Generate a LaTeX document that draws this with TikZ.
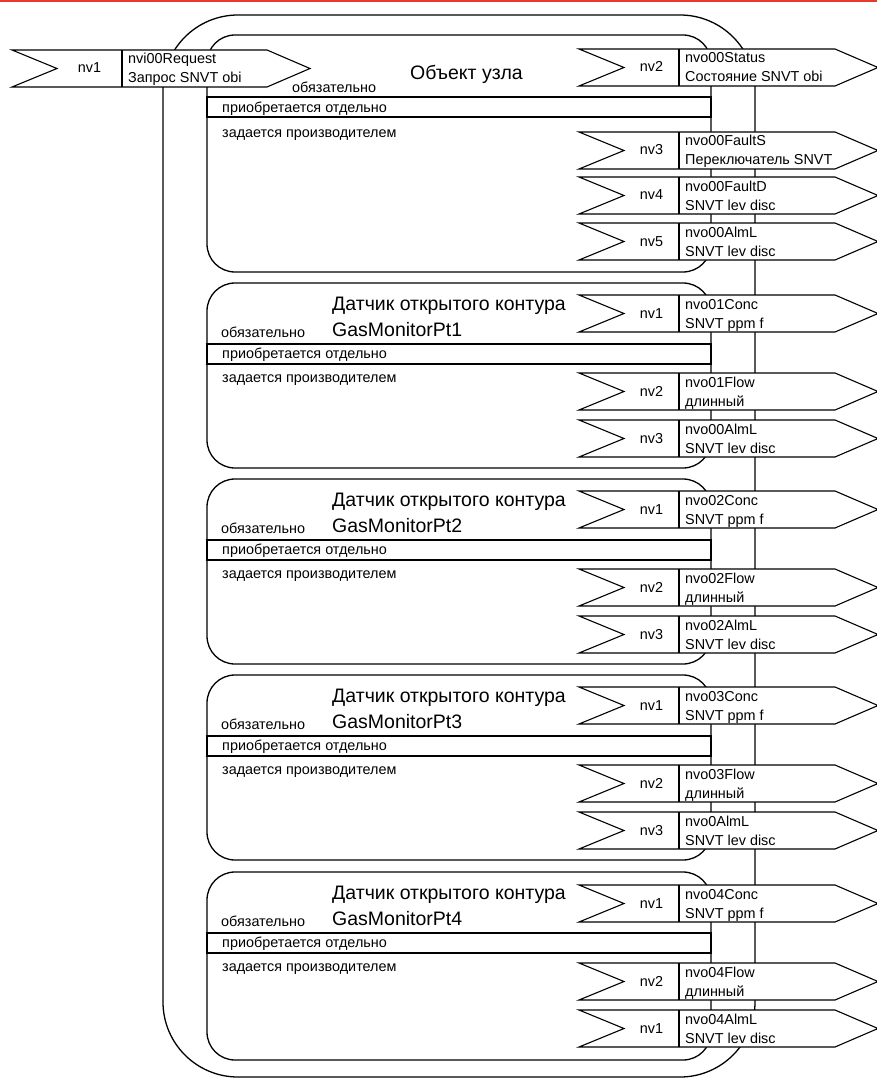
\documentclass[tikz,border=0pt]{standalone}
\usepackage{fontspec}
\setmainfont{Liberation Sans}
\usepackage{tikz}
\usetikzlibrary{positioning}
\definecolor{topred}{HTML}{E8392B}

% box with notch on the left and point on the right
% #1 name, #2 x, #3 y, #4 left width, #5 right width, #6 nv, #7 first line, #8 second line
\newcommand{\nvbox}[8]{%
  \draw[nvline,fill=white] (#2,#3) -- ++(#4+#5,0) -- ++(43,18.5) -- ++(-43,18.5)
    -- ++(-#4-#5,0) -- ++(45,-18.5) -- cycle;
  \draw[nvline] (#2+#4,#3) -- ++(0,37);
  \node[lbl,anchor=base] (#1-nv) at ({#2+(#4+45)/2},#3+23) {#6};
  \node[lbl,anchor=base west] (#1-a) at (#2+#4+6,#3+14) {#7};
  \node[lbl,anchor=base west] (#1-b) at (#2+#4+6,#3+33) {#8};
}

\begin{document}
\begin{tikzpicture}[x=1pt,y=-1pt,
  nvline/.style={black,line width=1.1pt},
  frame/.style={black,line width=1.3pt},
  lbl/.style={inner sep=0pt,font=\fontsize{14.4}{17}\selectfont},
  ttl/.style={inner sep=0pt,font=\fontsize{19.5}{23}\selectfont}]
  \useasboundingbox (0,0) rectangle (877,1078);
  \fill[topred] (0,0) rectangle (877,2.5);

  % outer frame
  \draw[frame,rounded corners=75] (163,15) rectangle (755,1077);

  % node object
  \draw[frame,rounded corners=28] (207,35) rectangle (711,272);
  \draw[frame] (207,97) rectangle (711,117);
  \node[ttl,anchor=base west] (obj) at (410,80) {Объект узла};
  \node[lbl,anchor=base west] (obj-m) at (292,93) {обязательно};
  \node[lbl,anchor=base west] (obj-o) at (222,113) {приобретается отдельно};
  \node[lbl,anchor=base west] (obj-p) at (222,138) {задается производителем};

  % sensor 1
  \draw[frame,rounded corners=28] (207,283) rectangle (711,468);
  \draw[frame] (207,344) rectangle (711,364);
  \node[ttl,anchor=base west] (s1) at (332,310) {Датчик открытого контура};
  \node[ttl,anchor=base west] (s1-n) at (332,336) {GasMonitorPt1};
  \node[lbl,anchor=base west] (s1-m) at (221,337) {обязательно};
  \node[lbl,anchor=base west] (s1-o) at (222,358) {приобретается отдельно};
  \node[lbl,anchor=base west] (s1-p) at (222,382) {задается производителем};

  % sensor 2
  \draw[frame,rounded corners=28] (207,479) rectangle (711,664);
  \draw[frame] (207,540) rectangle (711,560);
  \node[ttl,anchor=base west] (s2) at (332,506) {Датчик открытого контура};
  \node[ttl,anchor=base west] (s2-n) at (332,532) {GasMonitorPt2};
  \node[lbl,anchor=base west] (s2-m) at (221,533) {обязательно};
  \node[lbl,anchor=base west] (s2-o) at (222,554) {приобретается отдельно};
  \node[lbl,anchor=base west] (s2-p) at (222,578) {задается производителем};

  % sensor 3
  \draw[frame,rounded corners=28] (207,675) rectangle (711,860);
  \draw[frame] (207,736) rectangle (711,756);
  \node[ttl,anchor=base west] (s3) at (332,702) {Датчик открытого контура};
  \node[ttl,anchor=base west] (s3-n) at (332,728) {GasMonitorPt3};
  \node[lbl,anchor=base west] (s3-m) at (221,729) {обязательно};
  \node[lbl,anchor=base west] (s3-o) at (222,750) {приобретается отдельно};
  \node[lbl,anchor=base west] (s3-p) at (222,774) {задается производителем};

  % sensor 4
  \draw[frame,rounded corners=28] (207,872) rectangle (711,1060);
  \draw[frame] (207,933) rectangle (711,953);
  \node[ttl,anchor=base west] (s4) at (332,899) {Датчик открытого контура};
  \node[ttl,anchor=base west] (s4-n) at (332,925) {GasMonitorPt4};
  \node[lbl,anchor=base west] (s4-m) at (221,926) {обязательно};
  \node[lbl,anchor=base west] (s4-o) at (222,947) {приобретается отдельно};
  \node[lbl,anchor=base west] (s4-p) at (222,971) {задается производителем};

  % inputs and outputs
  \nvbox{req}{12}{50}{110}{145}{nv1}{nvi00Request}{Запрос SNVT obi}
  \nvbox{status}{579}{49}{100}{156}{nv2}{nvo00Status}{Состояние SNVT obi}
  \nvbox{faults}{579}{132}{100}{156}{nv3}{nvo00FaultS}{Переключатель SNVT}
  \nvbox{faultd}{579}{177}{100}{156}{nv4}{nvo00FaultD}{SNVT lev disc}
  \nvbox{alm0}{579}{223}{100}{156}{nv5}{nvo00AlmL}{SNVT lev disc}

  \nvbox{conc1}{579}{295}{100}{156}{nv1}{nvo01Conc}{SNVT ppm f}
  \nvbox{flow1}{579}{373}{100}{156}{nv2}{nvo01Flow}{длинный}
  \nvbox{alm1}{579}{420}{100}{156}{nv3}{nvo00AlmL}{SNVT lev disc}

  \nvbox{conc2}{579}{491}{100}{156}{nv1}{nvo02Conc}{SNVT ppm f}
  \nvbox{flow2}{579}{569}{100}{156}{nv2}{nvo02Flow}{длинный}
  \nvbox{alm2}{579}{616}{100}{156}{nv3}{nvo02AlmL}{SNVT lev disc}

  \nvbox{conc3}{579}{687}{100}{156}{nv1}{nvo03Conc}{SNVT ppm f}
  \nvbox{flow3}{579}{765}{100}{156}{nv2}{nvo03Flow}{длинный}
  \nvbox{alm3}{579}{812}{100}{156}{nv3}{nvo0AlmL}{SNVT lev disc}

  \nvbox{conc4}{579}{885}{100}{156}{nv1}{nvo04Conc}{SNVT ppm f}
  \nvbox{flow4}{579}{963}{100}{156}{nv2}{nvo04Flow}{длинный}
  \nvbox{alm4}{579}{1010}{100}{156}{nv1}{nvo04AlmL}{SNVT lev disc}
\end{tikzpicture}
\end{document}
